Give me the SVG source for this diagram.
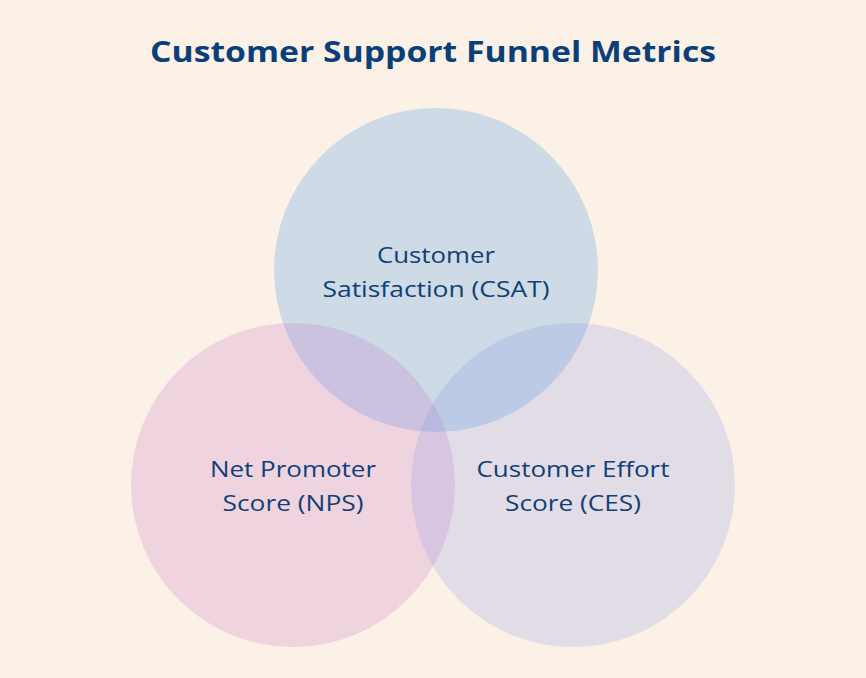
<svg xmlns="http://www.w3.org/2000/svg" width="866" height="678" viewBox="0 0 866 678">
<style>
.title{font-family:"Open Sans","Liberation Sans",sans-serif;font-weight:700;font-size:28px;fill:#0b3f78;text-anchor:middle}
.lbl{font-family:"Open Sans","Liberation Sans",sans-serif;font-size:22px;fill:#0f4078;text-anchor:middle}
.c{fill-opacity:0.2}
</style>
<rect width="866" height="678" fill="#fcf1e7"/>
<text class="title" x="433" y="62" textLength="566" lengthAdjust="spacingAndGlyphs">Customer Support Funnel Metrics</text>
<g id="csat">
<circle class="c" cx="436" cy="270" r="162" fill="#1b83e2"/>
<text class="lbl" x="436" y="263" textLength="118" lengthAdjust="spacingAndGlyphs">Customer</text>
<text class="lbl" x="436" y="297" textLength="227" lengthAdjust="spacingAndGlyphs">Satisfaction (CSAT)</text>
</g>
<g id="nps">
<circle class="c" cx="293" cy="485" r="162" fill="#c065c4"/>
<text class="lbl" x="293" y="477" textLength="166" lengthAdjust="spacingAndGlyphs">Net Promoter</text>
<text class="lbl" x="293" y="511" textLength="141" lengthAdjust="spacingAndGlyphs">Score (NPS)</text>
</g>
<g id="ces">
<circle class="c" cx="573" cy="485" r="162" fill="#7f8dec"/>
<text class="lbl" x="573" y="477" textLength="193" lengthAdjust="spacingAndGlyphs">Customer Effort</text>
<text class="lbl" x="573" y="511" textLength="136" lengthAdjust="spacingAndGlyphs">Score (CES)</text>
</g>
<g id="connectors"/>
</svg>
